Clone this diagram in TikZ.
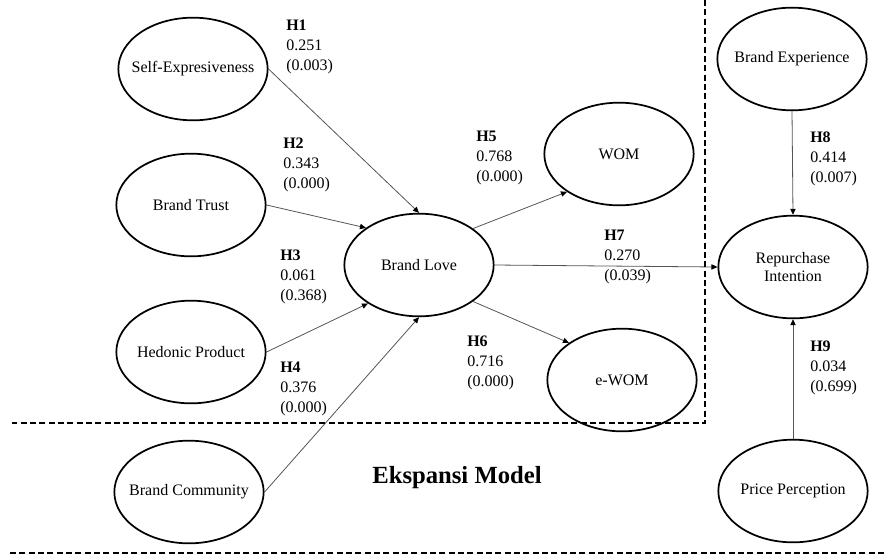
\documentclass[tikz,border=0pt]{standalone}
\usepackage{fontspec}
\setmainfont{Liberation Serif}
\usepackage{tikz}
\usetikzlibrary{arrows.meta,shapes.geometric}
\usepackage{xcolor}
\definecolor{PathGray}{RGB}{85,85,85}

\begin{document}
\begin{tikzpicture}[x=0.75pt,y=-0.75pt,
  construct/.style={ellipse, draw, line width=1.3pt, minimum width=112pt, minimum height=77pt,
    inner xsep=-25pt, inner ysep=0pt, align=center, font=\fontsize{12}{14}\selectfont},
  coef/.style={anchor=west, inner sep=0pt, align=left, font=\fontsize{12}{15}\selectfont},
  hypo/.style={draw=PathGray, line width=0.6pt, -{Triangle[length=4.5pt,width=4pt,color=black]}},
  boundary/.style={dash pattern=on 4.5pt off 2.5pt, line width=0.8pt}]
\useasboundingbox (0,0) rectangle (884,557);
% Constructs
\node[construct] (se) at (193,69) {Self-Expresiveness};
\node[construct] (bt) at (191,205) {Brand Trust};
\node[construct] (hp) at (191,352) {Hedonic Product};
\node[construct] (bc) at (189,492) {Brand Community};
\node[construct] (bl) at (419,265) {Brand Love};
\node[construct] (wom) at (619,154) {WOM};
\node[construct] (ewom) at (622,380) {e-WOM};
\node[construct] (be) at (792,59) {Brand Experience};
\node[construct] (ri) at (793,267) {Repurchase\\Intention};
\node[construct] (pp) at (793,491) {Price Perception};
% Paths
\draw[hypo] (se.east) -- (bl.north);
\draw[hypo] (bt.east) -- (bl.145);
\draw[hypo] (hp.east) -- (bl.217);
\draw[hypo] (bc.east) -- (bl.south);
\draw[hypo] (bl.34) -- (wom.216);
\draw[hypo] (bl.-34) -- (ewom.145);
\draw[hypo] (bl.east) -- (ri.west);
\draw[hypo] (be.south) -- (ri.north);
\draw[hypo] (pp.north) -- (ri.south);
% Coefficients
\node[coef] (h1) at (286,47) {\textbf{H1}\\0.251\\(0.003)};
\node[coef] (h2) at (283,165) {\textbf{H2}\\0.343\\(0.000)};
\node[coef] (h3) at (280,277) {\textbf{H3}\\0.061\\(0.368)};
\node[coef] (h4) at (280,389) {\textbf{H4}\\0.376\\(0.000)};
\node[coef] (h5) at (476,158) {\textbf{H5}\\0.768\\(0.000)};
\node[coef] (h6) at (467,363) {\textbf{H6}\\0.716\\(0.000)};
\node[coef] (h7) at (604,257) {\textbf{H7}\\0.270\\(0.039)};
\node[coef] (h8) at (810,159) {\textbf{H8}\\0.414\\(0.007)};
\node[coef] (h9) at (810,368) {\textbf{H9}\\0.034\\(0.699)};
% Model boundaries
\draw[boundary] (705,0) -- (705,423) -- (12,423);
\draw[boundary] (10,553) -- (884,553);
\node[font=\fontsize{18.5}{22}\selectfont\bfseries] (title) at (457,478) {Ekspansi Model};
\end{tikzpicture}
\end{document}
